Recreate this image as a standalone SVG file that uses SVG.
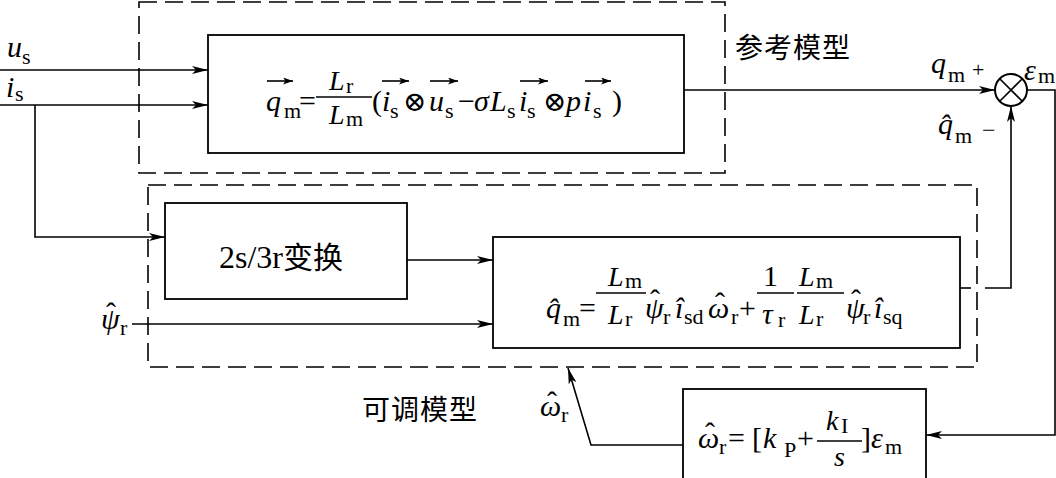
<svg xmlns="http://www.w3.org/2000/svg" width="1056" height="478" viewBox="0 0 1056 478">
<style>
text{fill:#000;font-family:"Liberation Serif","DejaVu Serif",serif}
.v{font-style:italic;font-size:30px}
.vf{font-style:italic;font-size:28px}
.u{font-size:30px}
.s{font-size:22px}
.h{font-size:30px}
.o{font-family:"DejaVu Serif","Liberation Serif",serif;font-size:28px}
.cn{font-family:"Noto Sans CJK SC",sans-serif;font-size:28px;letter-spacing:1px}
.t{font-family:"Liberation Serif",serif;font-size:32px}
.tc{font-family:"Noto Sans CJK SC",sans-serif;font-size:30px}
.box{fill:#fff;stroke:#000;stroke-width:1.8}
.dash{fill:none;stroke:#000;stroke-width:1.6;stroke-dasharray:18 8}
.ln{fill:none;stroke:#000;stroke-width:1.6}
.ar{fill:none;stroke:#000;stroke-width:1.6;marker-end:url(#ah)}
.bar{stroke:#000;stroke-width:1.3}
.va{stroke:#000;stroke-width:1.6;marker-end:url(#sa)}
</style>
<defs>
<marker id="ah" viewBox="0 0 16 8" refX="16" refY="4" markerWidth="16" markerHeight="8" markerUnits="userSpaceOnUse" orient="auto">
<path d="M0,0 L16,4 L0,8 L4,4 Z" fill="#000"/>
</marker>
<marker id="sa" viewBox="0 0 10 7" refX="10" refY="3.5" markerWidth="10" markerHeight="7" markerUnits="userSpaceOnUse" orient="auto">
<path d="M0,0 L10,3.5 L0,7 L2.5,3.5 Z" fill="#000"/>
</marker>
</defs>
<rect width="1056" height="478" fill="#fff"/>

<g id="reference-model-frame">
<rect class="dash" x="139" y="2" width="586" height="171"/>
<text class="cn" x="735" y="58">参考模型</text>
</g>

<g id="adjustable-model-frame">
<rect class="dash" x="148" y="185" width="829" height="182"/>
<text class="cn" x="362" y="420">可调模型</text>
</g>

<g id="connectors">
<path class="ar" d="M0,70 H208"/>
<path class="ar" d="M0,105 H208"/>
<path class="ar" d="M35,105 V237 H165"/>
<path class="ar" d="M407,260 H493"/>
<path class="ar" d="M132,324 H493"/>
<path class="ar" d="M684,90 H995"/>
<path class="ln" d="M960,288 H971"/>
<path class="ar" d="M985,288 H1011 V106"/>
<path class="ar" d="M1027,90 H1055 V435 H926"/>
<path class="ar" d="M683,445 H591 L568,368"/>
<text><tspan class="v" x="7" y="57">u</tspan><tspan class="s" x="22" y="64">s</tspan></text>
<text><tspan class="v" x="6" y="97">i</tspan><tspan class="s" x="15" y="101">s</tspan></text>
<text><tspan class="v" x="101" y="329">ψ</tspan><tspan class="h" x="106" y="323">ˆ</tspan><tspan class="s" x="120" y="335">r</tspan></text>
<text><tspan class="v" x="931" y="73">q</tspan><tspan class="s" x="948" y="82">m</tspan><tspan class="s" x="972" y="77">+</tspan></text>
<text><tspan class="v" x="938" y="134">q̂</tspan><tspan class="s" x="955" y="143">m</tspan><tspan class="u" x="982" y="138" style="font-size:24px">−</tspan></text>
<text><tspan class="v" x="1024" y="80">ε</tspan><tspan class="s" x="1038" y="83">m</tspan></text>
<text><tspan class="v" x="540" y="416">ω</tspan><tspan class="h" x="547" y="412">ˆ</tspan><tspan class="s" x="561" y="422">r</tspan></text>
</g>

<g id="reference-model">
<rect class="box" x="208" y="35" width="476" height="118"/>
<line class="va" x1="267" y1="81" x2="293" y2="81"/>
<line class="bar" x1="316" y1="97" x2="372" y2="97"/>
<line class="va" x1="382" y1="81" x2="409" y2="81"/>
<line class="va" x1="430" y1="81" x2="458" y2="81"/>
<line class="va" x1="520" y1="81" x2="548" y2="81"/>
<line class="va" x1="585" y1="81" x2="611" y2="81"/>
<text><tspan class="v" x="266" y="111">q</tspan><tspan class="s" x="284" y="118">m</tspan><tspan class="u" x="299" y="111">=</tspan><tspan class="vf" x="329" y="90">L</tspan><tspan class="s" x="346" y="93">r</tspan><tspan class="vf" x="329" y="124">L</tspan><tspan class="s" x="346" y="126">m</tspan><tspan class="u" x="372" y="111">(</tspan><tspan class="v" x="382" y="111">i</tspan><tspan class="s" x="390" y="118">s</tspan><tspan class="o" x="403" y="111">⊗</tspan><tspan class="v" x="429" y="111">u</tspan><tspan class="s" x="445" y="118">s</tspan><tspan class="u" x="458" y="111">−</tspan><tspan class="v" x="474" y="111">σ</tspan><tspan class="v" x="490" y="111">L</tspan><tspan class="s" x="507" y="118">s</tspan><tspan class="v" x="519" y="111">i</tspan><tspan class="s" x="527" y="118">s</tspan><tspan class="o" x="543" y="111">⊗</tspan><tspan class="v" x="566" y="111">p</tspan><tspan class="v" x="583" y="111">i</tspan><tspan class="s" x="593" y="118">s</tspan><tspan class="u" x="612" y="111">)</tspan></text>
</g>

<g id="transform-2s3r">
<rect class="box" x="165" y="203" width="242" height="96"/>
<text x="219" y="268"><tspan class="t">2s/3r</tspan><tspan class="tc">变换</tspan></text>
</g>

<g id="adjustable-model">
<rect class="box" x="493" y="237" width="467" height="111"/>
<line class="bar" x1="596" y1="293" x2="646" y2="293"/>
<line class="bar" x1="757" y1="293" x2="794" y2="293"/>
<line class="bar" x1="797" y1="293" x2="844" y2="293"/>
<text><tspan class="v" x="546" y="318">q̂</tspan><tspan class="s" x="563" y="326">m</tspan><tspan class="u" x="579" y="318">=</tspan><tspan class="vf" x="608" y="286">L</tspan><tspan class="s" x="625" y="288">m</tspan><tspan class="vf" x="608" y="324">L</tspan><tspan class="s" x="625" y="326">r</tspan><tspan class="v" x="645" y="318">ψ</tspan><tspan class="h" x="650" y="310">ˆ</tspan><tspan class="s" x="663" y="324">r</tspan><tspan class="v" x="675" y="318">î</tspan><tspan class="s" x="684" y="324">sd</tspan><tspan class="v" x="708" y="318">ω</tspan><tspan class="h" x="715" y="313">ˆ</tspan><tspan class="s" x="731" y="324">r</tspan><tspan class="u" x="739" y="318">+</tspan><tspan class="u" x="763" y="286">1</tspan><tspan class="v" x="762" y="324">τ</tspan><tspan class="s" x="778" y="327">r</tspan><tspan class="vf" x="799" y="286">L</tspan><tspan class="s" x="816" y="288">m</tspan><tspan class="vf" x="799" y="324">L</tspan><tspan class="s" x="816" y="326">r</tspan><tspan class="v" x="846" y="318">ψ</tspan><tspan class="h" x="851" y="310">ˆ</tspan><tspan class="s" x="863" y="324">r</tspan><tspan class="v" x="874" y="318">î</tspan><tspan class="s" x="883" y="324">sq</tspan></text>
</g>

<g id="sum-junction">
<circle cx="1011" cy="90" r="16" fill="#fff" stroke="#000" stroke-width="2"/>
<path class="ln" d="M999.7,78.7 L1022.3,101.3 M1022.3,78.7 L999.7,101.3"/>
</g>

<g id="pi-controller">
<rect class="box" x="683" y="389" width="243" height="100"/>
<line class="bar" x1="817" y1="441" x2="862" y2="441"/>
<text><tspan class="v" x="698" y="448">ω</tspan><tspan class="h" x="705" y="443">ˆ</tspan><tspan class="s" x="719" y="454">r</tspan><tspan class="u" x="728" y="448">=</tspan><tspan class="u" x="752" y="448">[</tspan><tspan class="v" x="763" y="448">k</tspan><tspan class="s" x="784" y="457">P</tspan><tspan class="u" x="797" y="448">+</tspan><tspan class="vf" x="826" y="430">k</tspan><tspan class="s" x="841" y="433">I</tspan><tspan class="vf" x="834" y="466">s</tspan><tspan class="u" x="861" y="448">]</tspan><tspan class="v" x="871" y="448">ε</tspan><tspan class="s" x="885" y="454">m</tspan></text>
</g>
</svg>
